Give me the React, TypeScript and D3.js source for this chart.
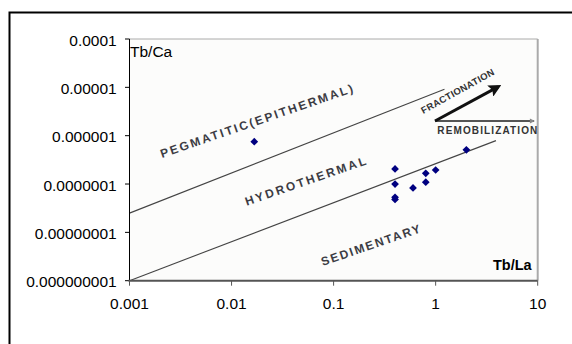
import React from "react";
import * as d3 from "d3";

// axis ticks
const xTicks = [0.001, 0.01, 0.1, 1, 10];
const xTickLabels = ["0.001", "0.01", "0.1", "1", "10"];
const yTicks = [1e-4, 1e-5, 1e-6, 1e-7, 1e-8, 1e-9];
const yTickLabels = ["0.0001", "0.00001", "0.000001", "0.0000001", "0.00000001", "0.000000001"];

// samples
const tbLa = [0.0167, 0.4, 0.4, 0.4, 0.4, 0.6, 0.8, 0.8, 1, 2];
const tbCa = [7.5e-7, 2.05e-7, 1.0e-7, 5.3e-8, 4.8e-8, 8.3e-8, 1.67e-7, 1.09e-7, 1.95e-7, 5.1e-7];

// field boundaries (start / end points)
const boundaryX = [[0.001, 1.22], [0.001, 3.9]];
const boundaryY = [[2.5e-8, 9.1e-6], [1e-9, 7.9e-7]];

// field names, anchored at the start of their baseline
const fieldNames = ["PEGMATITIC(EPITHERMAL)", "HYDROTHERMAL", "SEDIMENTARY"];
const fieldX = [0.00208, 0.0141, 0.0782];
const fieldY = [3.45e-7, 3.56e-8, 2.01e-9];

// trend arrows
const arrowNames = ["FRACTIONATION", "REMOBILIZATION"];
const arrowFrom = [[0.985, 2.01e-6], [0.985, 2.01e-6]];
const arrowTo = [[4.08, 1.02e-5], [9.2, 2.01e-6]];

const W = 572;
const H = 344;
const m = { left: 129.5, right: 537.7, top: 39, bottom: 280.7 };
const font = "'Liberation Sans', Arial, sans-serif";

export default function App() {
  const x = d3.scaleLog().domain([0.001, 10]).range([m.left, m.right]);
  const y = d3.scaleLog().domain([1e-9, 1e-4]).range([m.bottom, m.top]);
  const line = d3.line<number[]>().x(d => x(d[0])).y(d => y(d[1]));
  const diamond = d3.symbol().type(d3.symbolSquare).size(30)();

  const fieldLen = [203, 127, 104];
  const fieldAngle = -19;

  return (
    <div style={{ position: "absolute", left: 0, top: 0 }}>
      <svg width={W} height={H} style={{ display: "block", fontFamily: font }}>
        <defs>
          <marker id="headBlack" viewBox="0 0 10 10" refX="7" refY="5" markerWidth="4.2" markerHeight="4.2" orient="auto" markerUnits="strokeWidth">
            <path d="M0,0 L10,5 L0,10 L2,5 z" fill="#111" />
          </marker>
          <marker id="headGray" viewBox="0 0 10 10" refX="8" refY="5" markerWidth="4.5" markerHeight="2.6" orient="auto" markerUnits="strokeWidth">
            <path d="M0,0 L10,5 L0,10 z" fill="#888" />
          </marker>
        </defs>
        <rect width={W} height={H} fill="#fff" />
        {/* outer chart border, runs off the right and bottom */}
        <rect x={9.5} y={12.5} width={700} height={500} fill="none" stroke="#000" strokeWidth={2} />

        {/* plot area */}
        <rect x={m.left} y={m.top} width={m.right - m.left} height={m.bottom - m.top} fill="#fcfcfb" />
        <line x1={m.left} x2={m.right} y1={m.top} y2={m.top} stroke="#aaa" strokeWidth={1} />
        <line x1={m.right} x2={m.right} y1={m.top} y2={m.bottom} stroke="#aaa" strokeWidth={2} />

        {/* boundaries */}
        {boundaryX.map((bx, i) => (
          <path key={i} d={line([[bx[0], boundaryY[i][0]], [bx[1], boundaryY[i][1]]]) || ""} fill="none" stroke="#444" strokeWidth={1.1} />
        ))}

        {/* field names */}
        {fieldNames.map((t, i) => (
          <text key={t} x={x(fieldX[i])} y={y(fieldY[i])} transform={`rotate(${fieldAngle},${x(fieldX[i])},${y(fieldY[i])})`}
            fontSize={12} fontWeight="bold" fill="#3c3c44" textLength={fieldLen[i]} lengthAdjust="spacing">{t}</text>
        ))}

        {/* arrows */}
        <line x1={x(arrowFrom[1][0])} y1={y(arrowFrom[1][1])} x2={x(arrowTo[1][0])} y2={y(arrowTo[1][1])}
          stroke="#555" strokeWidth={2} markerEnd="url(#headGray)" />
        <line x1={x(arrowFrom[0][0])} y1={y(arrowFrom[0][1])} x2={x(arrowTo[0][0])} y2={y(arrowTo[0][1])}
          stroke="#111" strokeWidth={3} markerEnd="url(#headBlack)" />
        <text x={423.3} y={114} transform="rotate(-29,423.3,114)" fontSize={9.5} fontWeight="bold" fill="#333"
          textLength={82} lengthAdjust="spacing">{arrowNames[0]}</text>
        <text x={437.3} y={134} fontSize={10} fontWeight="bold" fill="#333" textLength={100} lengthAdjust="spacing">{arrowNames[1]}</text>

        {/* samples */}
        {tbLa.map((v, i) => (
          <path key={i} d={diamond} transform={`translate(${x(v)},${y(tbCa[i])}) rotate(45)`} fill="#000080" />
        ))}

        {/* y axis */}
        <line x1={m.left} x2={m.left} y1={m.top} y2={m.bottom} stroke="#000" strokeWidth={1} />
        {yTicks.map((t, i) => (
          <g key={t}>
            <line x1={m.left - 4.5} x2={m.left} y1={y(t)} y2={y(t)} stroke="#000" />
            <text x={116.7} y={y(t) + 6.5} textAnchor="end" fontSize={15.5} fill="#000">{yTickLabels[i]}</text>
          </g>
        ))}

        {/* x axis */}
        <line x1={m.left - 1} x2={m.right} y1={m.bottom} y2={m.bottom} stroke="#555" strokeWidth={2} />
        {xTicks.map((t, i) => (
          <g key={t}>
            <line x1={x(t)} x2={x(t)} y1={m.bottom} y2={m.bottom + 5} stroke="#555" strokeWidth={1} />
            <text x={x(t)} y={309.3} textAnchor="middle" fontSize={15.5} fill="#000">{xTickLabels[i]}</text>
          </g>
        ))}

        <text x={130} y={57.3} fontSize={15.5} fill="#000">Tb/Ca</text>
        <text x={531.7} y={270} textAnchor="end" fontSize={14.5} fontWeight="bold" fill="#000">Tb/La</text>
      </svg>
    </div>
  );
}
